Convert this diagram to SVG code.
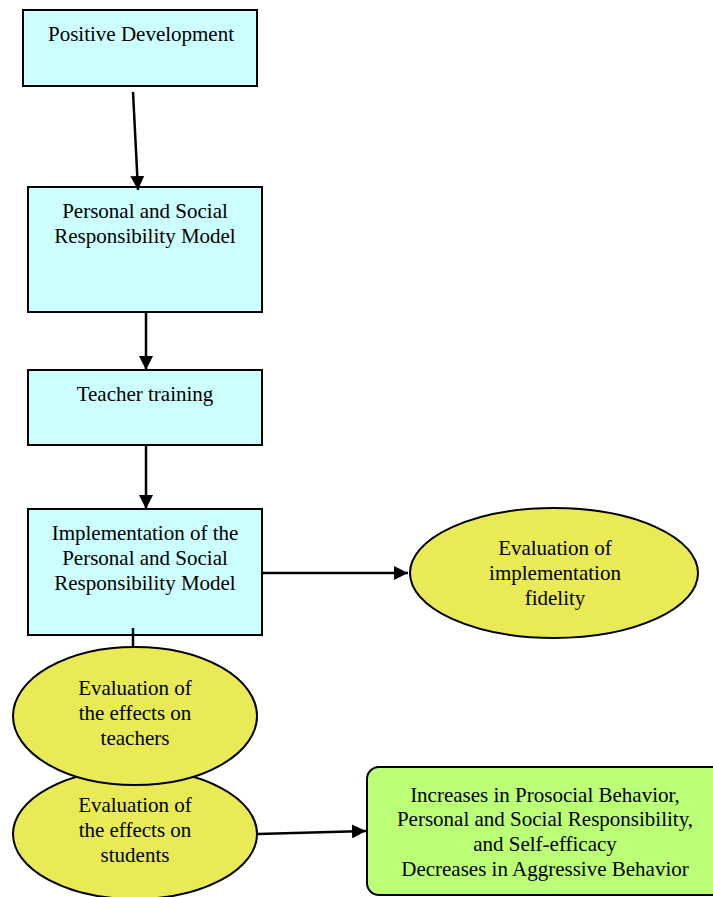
<svg xmlns="http://www.w3.org/2000/svg" width="713" height="897" viewBox="0 0 713 897">
<defs>
<style>
.box{fill:#CCFFFF;stroke:#000;stroke-width:2}
.ell{fill:#E8EB55;stroke:#000;stroke-width:2}
.grn{fill:#BBFF77;stroke:#000;stroke-width:2}
.t{font-family:"Liberation Serif","Times New Roman",serif;font-size:21px;fill:#000;text-anchor:middle}
.c{stroke:#000;stroke-width:2.5;fill:none}
</style>
<marker id="ah" viewBox="0 0 12 12" refX="12" refY="6" markerWidth="14" markerHeight="14" markerUnits="userSpaceOnUse" orient="auto">
<path d="M0,0 L12,6 L0,12 z" fill="#000"/>
</marker>
</defs>
<rect width="713" height="897" fill="#fff"/>
<g id="n1"><rect class="box" x="23" y="10" width="234" height="76"/><text class="t" x="141" y="41">Positive Development</text></g>
<g id="n2"><rect class="box" x="28" y="187" width="234" height="125"/><text class="t" x="145" y="218">Personal and Social</text><text class="t" x="145" y="243">Responsibility Model</text></g>
<g id="n3"><rect class="box" x="28" y="370" width="234" height="75"/><text class="t" x="145" y="401">Teacher training</text></g>
<g id="n4"><rect class="box" x="28" y="509" width="234" height="126"/><text class="t" x="145" y="540">Implementation of the</text><text class="t" x="145" y="565">Personal and Social</text><text class="t" x="145" y="590">Responsibility Model</text></g>
<g id="n5"><ellipse class="ell" cx="554" cy="573" rx="144" ry="65"/><text class="t" x="555" y="555">Evaluation of</text><text class="t" x="555" y="580">implementation</text><text class="t" x="555" y="605">fidelity</text></g>
<g id="n7"><ellipse class="ell" cx="135" cy="834" rx="122" ry="65"/><text class="t" x="135" y="812">Evaluation of</text><text class="t" x="135" y="837">the effects on</text><text class="t" x="135" y="862">students</text></g>
<g id="n6"><ellipse class="ell" cx="135" cy="716" rx="122" ry="69"/><text class="t" x="135" y="695">Evaluation of</text><text class="t" x="135" y="720">the effects on</text><text class="t" x="135" y="745">teachers</text></g>
<g id="n8"><rect class="grn" x="367" y="767" width="360" height="128" rx="12"/><text class="t" x="545" y="802">Increases in Prosocial Behavior,</text><text class="t" x="545" y="826">Personal and Social Responsibility,</text><text class="t" x="545" y="851">and Self-efficacy</text><text class="t" x="545" y="876">Decreases in Aggressive Behavior</text></g>
<g id="connectors">
<line class="c" x1="133" y1="92" x2="138" y2="190" marker-end="url(#ah)"/>
<line class="c" x1="146" y1="312" x2="146" y2="370" marker-end="url(#ah)"/>
<line class="c" x1="146" y1="445" x2="146" y2="509" marker-end="url(#ah)"/>
<line class="c" x1="262" y1="573" x2="408" y2="573" marker-end="url(#ah)"/>
<line class="c" x1="133" y1="628" x2="133" y2="647"/>
<line class="c" x1="258" y1="834" x2="366" y2="831" marker-end="url(#ah)"/>
</g>
</svg>
